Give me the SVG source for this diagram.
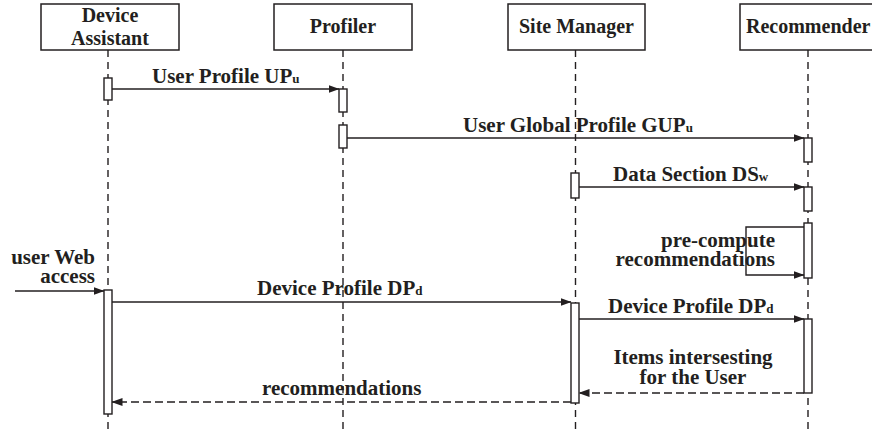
<svg xmlns="http://www.w3.org/2000/svg" width="872" height="433" viewBox="0 0 872 433">
<style>
.box{fill:#fff;stroke:#231f20;stroke-width:1.5}
.life{stroke:#231f20;stroke-width:1.4;stroke-dasharray:7 5;fill:none}
.act{fill:#fff;stroke:#231f20;stroke-width:1.4}
.msg{stroke:#231f20;stroke-width:1.4;fill:none}
.ret{stroke:#231f20;stroke-width:1.4;fill:none;stroke-dasharray:8 4}
text{font-family:"Liberation Serif","Times New Roman",serif;font-weight:bold;font-size:20px;fill:#231f20}
.lbl{font-size:21px}
.sub{font-size:13px}
</style>
<defs>
<marker id="ah" markerWidth="11" markerHeight="8" refX="10.5" refY="4" orient="auto" markerUnits="userSpaceOnUse">
<path d="M0,0 L11,4 L0,8 Z" fill="#231f20"/>
</marker>
</defs>
<g id="lifelines">
<line class="life" x1="108" y1="50" x2="108" y2="433"/>
<line class="life" x1="343" y1="50" x2="343" y2="433"/>
<line class="life" x1="575.5" y1="50" x2="575.5" y2="433"/>
<line class="life" x1="808" y1="50" x2="808" y2="433"/>
</g>
<g id="device-assistant">
<rect class="box" x="41" y="4" width="138" height="46"/>
<text x="110" y="22" text-anchor="middle">Device</text>
<text x="110" y="45" text-anchor="middle">Assistant</text>
<rect class="act" x="104" y="78" width="8" height="22"/>
<rect class="act" x="104" y="290" width="8" height="124"/>
</g>
<g id="profiler">
<rect class="box" x="274" y="4" width="138" height="46"/>
<text x="343" y="33" text-anchor="middle">Profiler</text>
<rect class="act" x="339" y="89" width="8" height="23"/>
<rect class="act" x="339" y="125" width="8" height="23"/>
</g>
<g id="site-manager">
<rect class="box" x="508" y="4" width="137" height="46"/>
<text x="576.5" y="33" text-anchor="middle">Site Manager</text>
<rect class="act" x="571" y="173" width="8" height="25"/>
<rect class="act" x="571" y="303" width="8" height="100"/>
</g>
<g id="recommender">
<rect class="box" x="740" y="4" width="140" height="46"/>
<text x="746" y="33">Recommender</text>
<rect class="act" x="804" y="138" width="8" height="24"/>
<rect class="act" x="804" y="187" width="8" height="24"/>
<rect class="act" x="804" y="223" width="8" height="55"/>
<rect class="act" x="804" y="319" width="8" height="74"/>
</g>
<g id="connectors">
<line class="msg" x1="112" y1="89" x2="339" y2="89" marker-end="url(#ah)"/>
<line class="msg" x1="347" y1="138" x2="804" y2="138" marker-end="url(#ah)"/>
<line class="msg" x1="579" y1="187" x2="804" y2="187" marker-end="url(#ah)"/>
<path class="msg" d="M804,227 H746 V275 H804" marker-end="url(#ah)"/>
<line class="msg" x1="15" y1="291" x2="104" y2="291" marker-end="url(#ah)"/>
<line class="msg" x1="112" y1="302" x2="571" y2="302" marker-end="url(#ah)"/>
<line class="msg" x1="579" y1="319" x2="804" y2="319" marker-end="url(#ah)"/>
<line class="ret" x1="804" y1="393" x2="579" y2="393" marker-end="url(#ah)"/>
<line class="ret" x1="571" y1="402" x2="112" y2="402" marker-end="url(#ah)"/>
</g>
<g id="labels">
<text class="lbl" x="152" y="83">User Profile UP<tspan class="sub">u</tspan></text>
<text class="lbl" x="463" y="132">User Global Profile GUP<tspan class="sub">u</tspan></text>
<text class="lbl" x="613" y="181">Data Section DS<tspan class="sub">w</tspan></text>
<text class="lbl" x="775" y="247" text-anchor="end">pre-compute</text>
<text class="lbl" x="775" y="266" text-anchor="end">recommendations</text>
<text class="lbl" x="95" y="264" text-anchor="end">user Web</text>
<text class="lbl" x="95" y="283" text-anchor="end">access</text>
<text class="lbl" x="257" y="295">Device Profile DP<tspan class="sub">d</tspan></text>
<text class="lbl" x="608" y="313">Device Profile DP<tspan class="sub">d</tspan></text>
<text class="lbl" x="693" y="364" text-anchor="middle">Items intersesting</text>
<text class="lbl" x="693" y="384" text-anchor="middle">for the User</text>
<text class="lbl" x="262" y="395">recommendations</text>
</g>
</svg>
